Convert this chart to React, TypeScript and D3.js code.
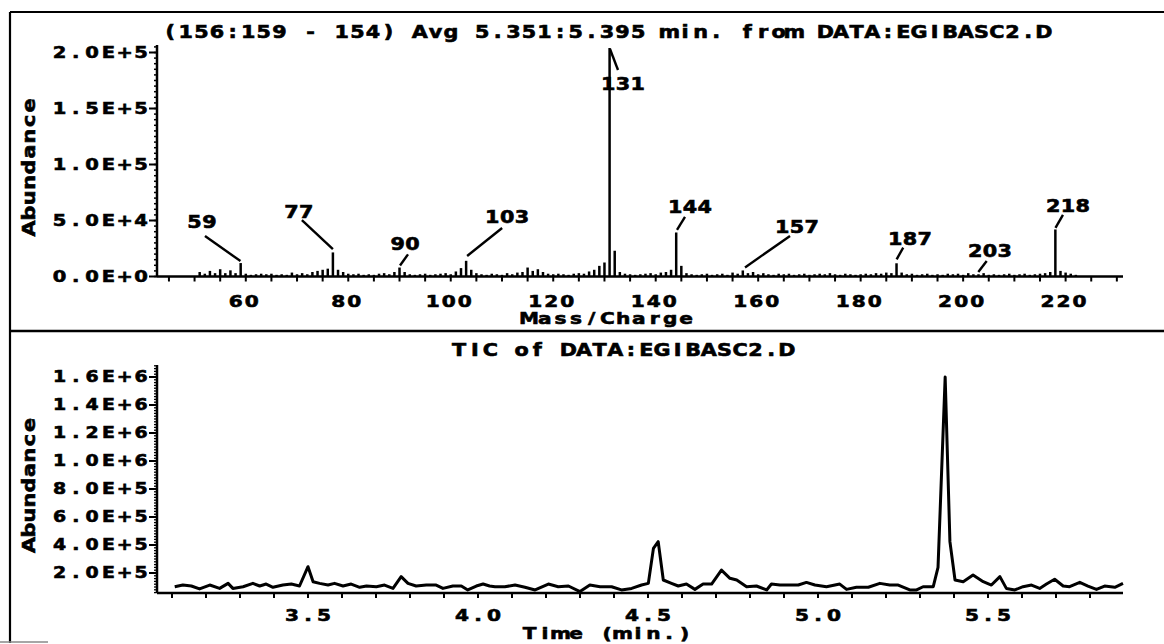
import React from 'react';
import * as d3 from 'd3';

// ---------- DATA ----------
const specTitle = '(156:159 - 154) Avg 5.351:5.395 min. from DATA:EGIBASC2.D';
const ticTitle = 'TIC of DATA:EGIBASC2.D';

const massValues: number[] = [
  51, 52, 53, 54, 55, 56, 57, 58, 59, 60, 61, 62, 63, 64, 65, 66, 67, 68, 69, 70,
  71, 72, 73, 74, 75, 76, 77, 78, 79, 80, 81, 82, 83, 84, 85, 86, 87, 88, 89, 90,
  91, 92, 93, 94, 95, 96, 97, 98, 99, 100, 101, 102, 103, 104, 105, 106, 107, 108, 109, 110,
  111, 112, 113, 114, 115, 116, 117, 118, 119, 120, 121, 122, 123, 124, 125, 126, 127, 128, 129, 130,
  131, 132, 133, 134, 135, 136, 137, 138, 139, 140, 141, 142, 143, 144, 145, 146, 147, 148, 149, 150,
  151, 152, 153, 154, 155, 156, 157, 158, 159, 160, 161, 162, 163, 164, 165, 166, 167, 168, 169, 170,
  171, 172, 173, 174, 175, 176, 177, 178, 179, 180, 181, 182, 183, 184, 185, 186, 187, 188, 189, 190,
  191, 192, 193, 194, 195, 196, 197, 198, 199, 200, 201, 202, 203, 204, 205, 206, 207, 208, 209, 210,
  211, 212, 213, 214, 215, 216, 217, 218, 219, 220, 221, 222,
];
const massAbundance: number[] = [
  4000, 2500, 5000, 3000, 6500, 3000, 5500, 3000, 12000, 2500, 1500, 2000, 2500, 2000, 2500, 1500, 2000, 1500, 3500, 2000,
  3000, 2000, 4000, 5000, 6000, 7000, 21500, 6000, 4000, 2500, 2000, 2500, 1500, 2000, 1500, 2500, 3000, 2000, 4000, 8000,
  4000, 2000, 1500, 2000, 2500, 1500, 2000, 2500, 3000, 2000, 4500, 7500, 14000, 6000, 3000, 2000, 1500, 2500, 2000, 1500,
  3000, 2000, 3500, 4000, 8000, 5000, 6500, 4000, 2500, 2000, 2500, 2000, 1500, 2500, 3000, 2500, 4500, 6000, 9500, 12500,
  204000, 23000, 4000, 2500, 2000, 1500, 2000, 2500, 3000, 2000, 3500, 4000, 6000, 39300, 9500, 3000, 2000, 1500, 2000, 2500,
  1500, 2000, 2500, 1500, 3500, 2500, 5400, 3000, 4000, 2000, 3000, 2000, 1500, 2500, 2000, 2500, 1500, 2000, 2500, 1500,
  2000, 2500, 2000, 3000, 2000, 1500, 2500, 2000, 1500, 2000, 2500, 2000, 3000, 2500, 3500, 3000, 11800, 3500, 2000, 2500,
  1500, 2000, 2500, 1500, 2000, 1500, 2500, 2000, 2500, 1500, 3000, 2000, 2000, 3000, 1500, 2000, 1500, 2000, 2500, 1500,
  2000, 2500, 1500, 2000, 2500, 3000, 4000, 42000, 5000, 3500, 2500, 1500,
];
const labelledMasses: number[] = [59, 77, 90, 103, 131, 144, 157, 187, 203, 218];

const specYTicks: number[] = [0, 50000, 100000, 150000, 200000];
const specYLabels: string[] = ['0.0E+0', '5.0E+4', '1.0E+5', '1.5E+5', '2.0E+5'];
const specXTicks: number[] = [60, 80, 100, 120, 140, 160, 180, 200, 220];
const specXLabels: string[] = ['60', '80', '100', '120', '140', '160', '180', '200', '220'];

const ticTime: number[] = [
  3.108, 3.132, 3.157, 3.181, 3.211, 3.240, 3.265, 3.279, 3.309, 3.338, 3.358, 3.377, 3.397, 3.426, 3.451, 3.475,
  3.500, 3.515, 3.534, 3.559, 3.578, 3.603, 3.627, 3.652, 3.672, 3.701, 3.725, 3.750, 3.774, 3.794, 3.818, 3.848,
  3.877, 3.897, 3.926, 3.951, 3.970, 3.995, 4.015, 4.034, 4.050, 4.079, 4.109, 4.138, 4.168, 4.207, 4.236, 4.266,
  4.300, 4.329, 4.359, 4.393, 4.422, 4.452, 4.481, 4.501, 4.516, 4.530, 4.545, 4.569, 4.589, 4.613, 4.638, 4.662,
  4.687, 4.716, 4.741, 4.761, 4.790, 4.819, 4.849, 4.863, 4.888, 4.912, 4.942, 4.966, 4.991, 5.025, 5.064, 5.084,
  5.113, 5.148, 5.182, 5.211, 5.236, 5.270, 5.290, 5.309, 5.339, 5.353, 5.374, 5.388, 5.403, 5.427, 5.456, 5.486,
  5.510, 5.535, 5.554, 5.579, 5.603, 5.628, 5.652, 5.672, 5.696, 5.721, 5.740, 5.770, 5.794, 5.819, 5.843, 5.873,
  5.897,
];
const ticAbundance: number[] = [
  102000, 114000, 107000, 86000, 114000, 90000, 126000, 90000, 102000, 126000, 107000, 121000, 98000, 114000, 121000, 107000,
  245000, 138000, 126000, 114000, 126000, 107000, 121000, 98000, 107000, 102000, 114000, 90000, 174000, 126000, 107000, 114000,
  114000, 90000, 107000, 107000, 79000, 107000, 121000, 107000, 102000, 102000, 114000, 98000, 79000, 121000, 102000, 107000,
  67000, 114000, 102000, 102000, 79000, 90000, 114000, 126000, 376000, 424000, 150000, 126000, 107000, 121000, 83000, 121000,
  121000, 221000, 162000, 150000, 102000, 107000, 79000, 121000, 114000, 114000, 114000, 133000, 114000, 102000, 121000, 83000,
  98000, 98000, 126000, 114000, 114000, 79000, 79000, 102000, 102000, 240000, 1600000, 424000, 150000, 138000, 185000, 138000,
  114000, 174000, 90000, 79000, 102000, 114000, 90000, 121000, 155000, 107000, 102000, 133000, 107000, 83000, 107000, 98000,
  126000,
];

const ticYTicks: number[] = [200000, 400000, 600000, 800000, 1000000, 1200000, 1400000, 1600000];
const ticYLabels: string[] = ['2.0E+5', '4.0E+5', '6.0E+5', '8.0E+5', '1.0E+6', '1.2E+6', '1.4E+6', '1.6E+6'];
const ticXTicks: number[] = [3.5, 4.0, 4.5, 5.0, 5.5];
const ticXLabels: string[] = ['3.5', '4.0', '4.5', '5.0', '5.5'];

// ---------- LAYOUT ----------
const W = 1164;
const H = 644;
const FONT = "'DejaVu Sans', 'Liberation Sans', sans-serif";
const SX = 1.22; // horizontal glyph stretch (wide plotter font)

// label/leader offsets relative to each labelled bar's top
const annot: Record<number, { lx: number; ly: number; x1: number; y1: number; x2: number; y2: number }> = {
  59: { lx: -38.7, ly: -35, x1: -35.7, y1: -27, x2: -0.2, y2: -2 },
  77: { lx: -34, ly: -34.4, x1: -31, y1: -32.4, x2: 0, y2: -3.4 },
  90: { lx: 5.5, ly: -17.5, x1: 8.5, y1: -13.2, x2: 0.5, y2: -2 },
  103: { lx: 41, ly: -37.8, x1: 36, y1: -32.8, x2: 1, y2: -4.8 },
  131: { lx: 13.4, ly: 42, x1: 0.4, y1: 1, x2: 8.4, y2: 22 },
  144: { lx: 13.8, ly: -19.5, x1: 8.8, y1: -15.5, x2: 0.8, y2: -2.5 },
  157: { lx: 54.2, ly: -37.5, x1: 47.2, y1: -34.5, x2: 2.2, y2: -3 },
  187: { lx: 13.4, ly: -18.3, x1: 6.7, y1: -15.6, x2: 0.1, y2: -4 },
  203: { lx: 11.5, ly: -17.3, x1: 8.2, y1: -13.3, x2: -0.2, y2: -2.3 },
  218: { lx: 12.6, ly: -17.5, x1: 7.6, y1: -14.5, x2: 0.1, y2: -1.5 },
};

function Mono(props: {
  text: string; x: number; y: number; pitch: number; fs?: number;
  align?: 'start' | 'middle' | 'end'; transform?: string;
}) {
  const { text, x, y, pitch, fs = 17, align = 'middle', transform } = props;
  const n = text.length;
  let x0 = x;
  if (align === 'middle') x0 = x - ((n - 1) * pitch) / 2;
  else if (align === 'end') x0 = x - (n - 1) * pitch;
  const xs = Array.from(text).map((_, i) => ((x0 + i * pitch) / SX).toFixed(2)).join(' ');
  return (
    <text
      x={xs}
      y={y}
      textAnchor="middle"
      fontFamily={FONT}
      fontWeight={700}
      fontSize={fs}
      fill="#000"
      stroke="#000"
      strokeWidth={0.6}
      transform={`${transform ?? ''} scale(${SX},1)`}
    >
      {text}
    </text>
  );
}

export default function App() {
  // spectrum scales
  const xM = d3.scaleLinear().domain([42.67, 231.2]).range([157, 1123]);
  const yM = d3.scaleLinear().domain([0, 200000]).range([276.5, 52.5]);
  const specTop = 45;
  // TIC scales
  const xT = d3.scaleLinear().domain([3.5, 5.5]).range([308, 988]);
  const yT = d3.scaleLinear().domain([0, 1600000]).range([601, 377]);
  const ticBase = 593;
  const ticTop = 365;

  const specMinorY = d3.range(0, yM.invert(specTop), 5000);
  const specMinorX = d3.range(45, 231, 5);
  const ticMinorY = d3.range(60000, yT.invert(ticTop), 20000);
  const ticMinorX = d3.range(3.1, 5.9, 0.1);

  const line = d3
    .line<number>()
    .x((_, i) => xT(ticTime[i]))
    .y((d) => yT(d));

  const abOf = (m: number) => massAbundance[massValues.indexOf(m)];

  return (
    <svg
      width={W}
      height={H}
      style={{ position: 'absolute', left: 0, top: 0, background: '#fff' }}
    >
      <rect x={0} y={0} width={W} height={H} fill="#fff" />
      {/* frame */}
      <line x1={10} y1={12} x2={W} y2={12} stroke="#000" strokeWidth={2.2} />
      <line x1={10} y1={12} x2={10} y2={643} stroke="#000" strokeWidth={2.2} />
      <line x1={10} y1={331} x2={W} y2={331} stroke="#000" strokeWidth={2.6} />
      <line x1={0} y1={642} x2={48} y2={642} stroke="#888" strokeWidth={1.5} />

      {/* ===== spectrum panel ===== */}
      <Mono text={specTitle} x={607} y={38} pitch={15.6} />

      {/* y axis */}
      <line x1={157} y1={specTop} x2={157} y2={yM(0)} stroke="#000" strokeWidth={2.5} />
      {specMinorY.map((v, i) => (
        <line key={'smy' + i} x1={154} x2={157} y1={yM(v)} y2={yM(v)} stroke="#000" strokeWidth={1.5} />
      ))}
      {specYTicks.map((v, i) => (
        <g key={'sy' + i}>
          <line x1={149} x2={157} y1={yM(v)} y2={yM(v)} stroke="#000" strokeWidth={2} />
          <Mono text={specYLabels[i]} x={141} y={yM(v) + 6} pitch={16.3} fs={16} align="end" />
        </g>
      ))}
      <Mono text="Abundance" x={0} y={0} pitch={15.4} fs={17} transform="translate(35,167) rotate(-90)" />

      {/* x axis */}
      <line x1={157} y1={yM(0)} x2={1123} y2={yM(0)} stroke="#000" strokeWidth={2.5} />
      {specMinorX.map((v, i) => (
        <line key={'smx' + i} x1={xM(v)} x2={xM(v)} y1={yM(0)} y2={yM(0) + 5} stroke="#000" strokeWidth={2} />
      ))}
      {specXTicks.map((v, i) => (
        <Mono key={'sx' + i} text={specXLabels[i]} x={xM(v) - 2} y={307.5} pitch={16} fs={16.5} />
      ))}
      <Mono text="Mass/Charge" x={607.5} y={324.5} pitch={15.7} fs={16.5} />

      {/* bars */}
      {massValues.map((m, i) => (
        <line
          key={'b' + m}
          x1={xM(m)}
          x2={xM(m)}
          y1={yM(0)}
          y2={yM(massAbundance[i])}
          stroke="#000"
          strokeWidth={2.5}
        />
      ))}

      {/* peak annotations */}
      {labelledMasses.map((m) => {
        const a = annot[m];
        const bx = xM(m);
        const by = yM(abOf(m));
        return (
          <g key={'a' + m}>
            <line x1={bx + a.x1} y1={by + a.y1} x2={bx + a.x2} y2={by + a.y2} stroke="#000" strokeWidth={2.4} />
            <Mono text={String(m)} x={bx + a.lx} y={by + a.ly} pitch={14.8} fs={17} />
          </g>
        );
      })}

      {/* ===== TIC panel ===== */}
      <Mono text={ticTitle} x={623} y={356} pitch={15.6} />

      <line x1={157} y1={ticTop} x2={157} y2={ticBase} stroke="#000" strokeWidth={2.5} />
      {ticMinorY.map((v, i) => (
        <line key={'tmy' + i} x1={154} x2={157} y1={yT(v)} y2={yT(v)} stroke="#000" strokeWidth={1.3} />
      ))}
      {ticYTicks.map((v, i) => (
        <g key={'ty' + i}>
          <line x1={149} x2={157} y1={yT(v)} y2={yT(v)} stroke="#000" strokeWidth={2} />
          <Mono text={ticYLabels[i]} x={141} y={yT(v) + 5.5} pitch={16.3} fs={15.5} align="end" />
        </g>
      ))}
      <Mono text="Abundance" x={0} y={0} pitch={15} fs={17} transform="translate(35,485) rotate(-90)" />

      <line x1={157} y1={ticBase} x2={1123} y2={ticBase} stroke="#000" strokeWidth={2.5} />
      {ticMinorX.map((v, i) => (
        <line key={'tmx' + i} x1={xT(v)} x2={xT(v)} y1={ticBase} y2={ticBase + 5} stroke="#000" strokeWidth={2} />
      ))}
      {ticXTicks.map((v, i) => (
        <Mono key={'tx' + i} text={ticXLabels[i]} x={xT(v)} y={621} pitch={16} fs={16.5} />
      ))}
      <Mono text="Time (min.)" x={607} y={639.5} pitch={15.5} fs={16.5} />

      <path d={line(ticAbundance) || ''} fill="none" stroke="#000" strokeWidth={3} strokeLinejoin="round" />
    </svg>
  );
}
